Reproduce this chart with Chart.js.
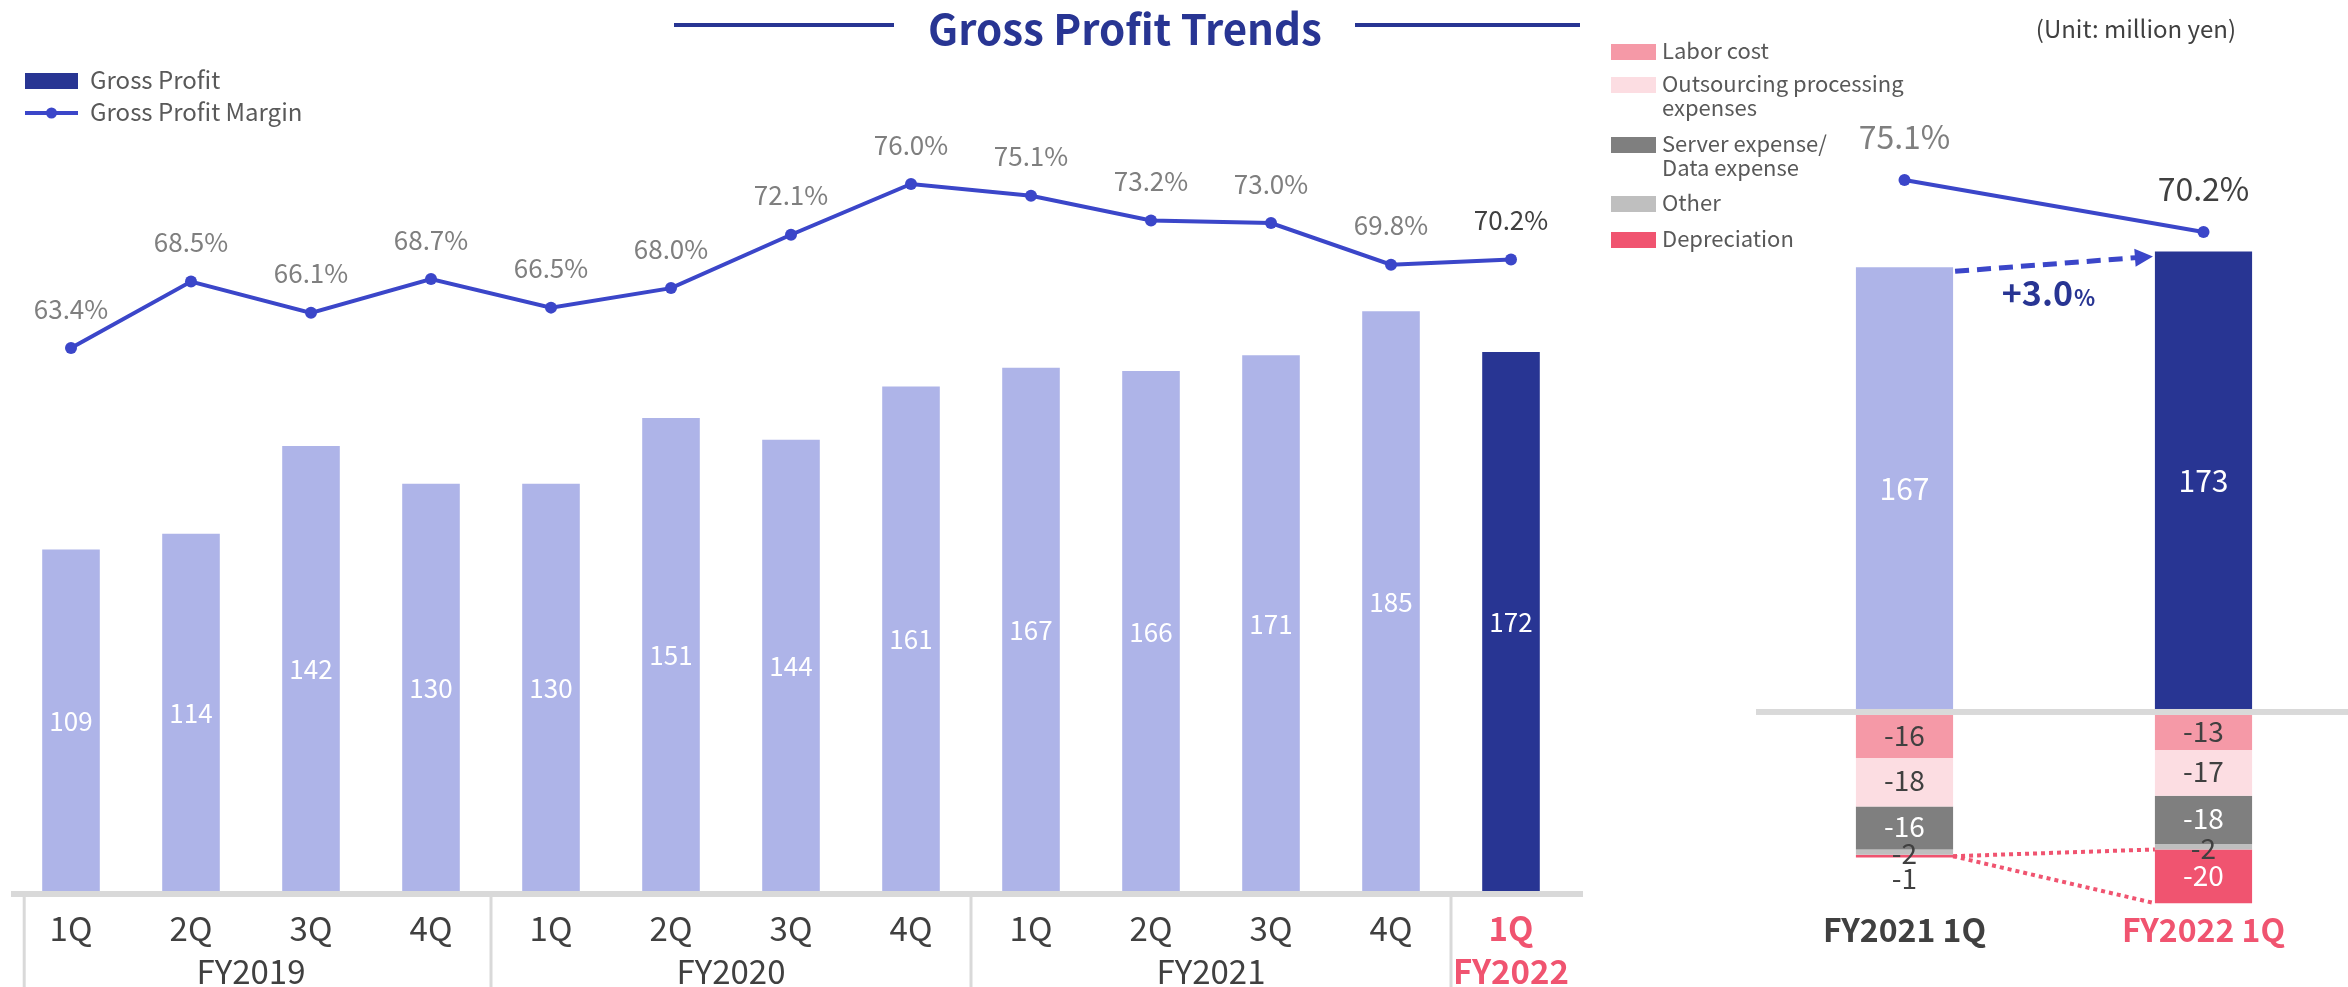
<!DOCTYPE html>
<html>
<head>
<meta charset="utf-8">
<script src="https://cdn.jsdelivr.net/npm/chart.js@4.4.1/dist/chart.umd.min.js"></script>
<style>
html,body{margin:0;padding:0;background:#ffffff;width:2348px;height:987px;overflow:hidden;position:relative;}
#leftChart{position:absolute;left:0;top:0;}
#rightChart{position:absolute;left:1600px;top:0;}
</style>
</head>
<body>
<canvas id="leftChart" width="1600" height="987"></canvas>
<canvas id="rightChart" width="770" height="987"></canvas>
<script>
// ---------------- DATA ----------------
const quarterLabels = ['1Q','2Q','3Q','4Q','1Q','2Q','3Q','4Q','1Q','2Q','3Q','4Q','1Q'];
const fiscalYears = ['FY2019','FY2020','FY2021','FY2022'];
const fiscalGroups = [[0,3],[4,7],[8,11],[12,12]];
const grossProfit = [109,114,142,130,130,151,144,161,167,166,171,185,172];
const grossMargin = [63.4,68.5,66.1,68.7,66.5,68.0,72.1,76.0,75.1,73.2,73.0,69.8,70.2];

const compareLabels = ['FY2021 1Q','FY2022 1Q'];
const compareGrossProfit = [167,173];
const compareMargin = [75.1,70.2];
const laborCost = [-16,-13];
const outsourcingCost = [-18,-17];
const serverDataCost = [-16,-18];
const otherCost = [-2,-2];
const depreciationCost = [-1,-20];
const costNames = ['Labor cost','Outsourcing processing\nexpenses','Server expense/\nData expense','Other','Depreciation'];
const growthText = '+3.0';

// ---------------- STYLE ----------------
const FONT = '"Noto Sans CJK JP","Noto Sans",sans-serif';
const NAVY = '#283593';
const LIGHT = '#aeb4e8';
const LINE = '#3b46c9';
const PINK = '#f05470';
const GRID = '#d9d9d9';
const costColors = ['#f599a7','#fcdde2','#7f7f7f','#bfbfbf','#f05470'];
const costLabelColors = ['#404040','#404040','#ffffff','#404040','#ffffff'];

function txt(ctx, s, x, cy, size, color, weight, align){
  ctx.save();
  ctx.font = (weight||'normal') + ' ' + size + 'px ' + FONT;
  ctx.fillStyle = color;
  ctx.textAlign = align || 'center';
  ctx.textBaseline = 'alphabetic';
  ctx.fillText(s, x, cy + 0.33*size);
  ctx.restore();
}

// ---------------- LEFT CHART ----------------
const leftDecor = {
  id:'leftDecor',
  afterDatasetsDraw(chart){
    const ctx = chart.ctx;
    const xs = chart.scales.x, ys = chart.scales.y;
    const barMeta = chart.getDatasetMeta(0), lineMeta = chart.getDatasetMeta(1);
    barMeta.data.forEach((el,i)=>{
      txt(ctx, String(grossProfit[i]), el.x, (el.y+el.base)/2 + 2, 26, '#ffffff');
    });
    lineMeta.data.forEach((pt,i)=>{
      txt(ctx, grossMargin[i].toFixed(1)+'%', pt.x, pt.y-38, 26, i===grossMargin.length-1?'#404040':'#7f7f7f');
    });
    const step = xs.getPixelForValue(1)-xs.getPixelForValue(0);
    const base = ys.getPixelForValue(0);
    const n = grossProfit.length;
    ctx.fillStyle = GRID;
    const x0 = xs.getPixelForValue(0)-0.5*step, x1 = xs.getPixelForValue(n-1)+0.6*step;
    ctx.fillRect(x0, base, x1-x0, 6);
    const seps = [xs.getPixelForValue(0)-0.39*step];
    fiscalGroups.slice(0,-1).forEach(g=>seps.push(xs.getPixelForValue(g[1])+step/2));
    seps.forEach(sx=>ctx.fillRect(sx-1.5, base+6, 3, chart.height-base-6));
    quarterLabels.forEach((q,i)=>{
      const last = i===n-1;
      txt(ctx, q, xs.getPixelForValue(i), 930, 33, last?PINK:'#404040', last?'bold':'normal');
    });
    fiscalYears.forEach((fy,k)=>{
      const g = fiscalGroups[k];
      const cx = (xs.getPixelForValue(g[0])+xs.getPixelForValue(g[1]))/2;
      const last = k===fiscalYears.length-1;
      txt(ctx, fy, cx, 973, 33, last?PINK:'#404040', last?'bold':'normal');
    });
    // legend
    ctx.fillStyle = NAVY; ctx.fillRect(25,73,53,16);
    txt(ctx,'Gross Profit',90,81,24,'#595959','normal','left');
    ctx.strokeStyle = LINE; ctx.lineWidth = 4;
    ctx.beginPath(); ctx.moveTo(25,113); ctx.lineTo(78,113); ctx.stroke();
    ctx.fillStyle = LINE; ctx.beginPath(); ctx.arc(51.5,113,5.5,0,Math.PI*2); ctx.fill();
    txt(ctx,'Gross Profit Margin',90,113,24,'#595959','normal','left');
    // title
    ctx.fillStyle = NAVY;
    ctx.fillRect(674,23,220,4);
    ctx.fillRect(1355,23,225,4);
    txt(ctx,'Gross Profit Trends',1125,31,42,NAVY,'bold');
  }
};

new Chart(document.getElementById('leftChart'), {
  type:'bar',
  data:{
    labels: quarterLabels,
    datasets:[
      {type:'bar', label:'Gross Profit', data:grossProfit,
       backgroundColor: grossProfit.map((v,i)=> i===grossProfit.length-1?NAVY:LIGHT),
       categoryPercentage:1, barPercentage:0.48, yAxisID:'y', order:1},
      {type:'line', label:'Gross Profit Margin', data:grossMargin, yAxisID:'y2',
       borderColor:LINE, backgroundColor:LINE, borderWidth:4, pointRadius:6,
       pointBackgroundColor:LINE, pointBorderWidth:0, tension:0, order:0}
    ]
  },
  options:{
    responsive:false, animation:false,
    layout:{padding:{left:11,right:29,top:107.7,bottom:96}},
    scales:{
      x:{display:false},
      y:{display:false,min:0,max:250},
      y2:{display:false,min:21.68,max:81.86}
    },
    plugins:{legend:{display:false},tooltip:{enabled:false}}
  },
  plugins:[leftDecor]
});

// ---------------- RIGHT CHART ----------------
const costSeries = [laborCost,outsourcingCost,serverDataCost,otherCost,depreciationCost];
const rightDecor = {
  id:'rightDecor',
  afterDatasetsDraw(chart){
    const ctx = chart.ctx;
    const zTop = chart.scales.y.getPixelForValue(0);
    const zBot = chart.scales.yneg.getPixelForValue(0);
    ctx.fillStyle = GRID;
    ctx.fillRect(156, zTop, chart.width-156, zBot-zTop);
    const gp = chart.getDatasetMeta(0);
    gp.data.forEach((el,i)=> txt(ctx, String(compareGrossProfit[i]), el.x, (el.y+el.base)/2 + 2, 30, '#ffffff'));
    costSeries.forEach((ser,k)=>{
      const meta = chart.getDatasetMeta(k+1);
      meta.data.forEach((el,i)=>{
        const h = Math.abs(el.y-el.base);
        if (k===4 && h<12){
          txt(ctx, String(ser[i]), el.x, el.y+22, 28, '#404040');
        } else {
          txt(ctx, String(ser[i]), el.x, (el.y+el.base)/2 + (h<12?3:0), 28, h<12?'#404040':costLabelColors[k]);
        }
      });
    });
    const lm = chart.getDatasetMeta(6);
    lm.data.forEach((pt,i)=> txt(ctx, compareMargin[i].toFixed(1)+'%', pt.x, pt.y-42, 32, i===0?'#7f7f7f':'#404040'));
    // dotted connectors between depreciation segments
    const dep = chart.getDatasetMeta(5);
    const d0 = dep.data[0], d1 = dep.data[1];
    const sx = d0.x + d0.width/2, sy = (d0.y+d0.base)/2;
    const ex = d1.x - d1.width/2;
    ctx.save();
    ctx.strokeStyle = PINK; ctx.lineWidth = 4; ctx.setLineDash([4,4]);
    ctx.beginPath(); ctx.moveTo(sx,sy); ctx.lineTo(ex,d1.base); ctx.stroke();
    ctx.beginPath(); ctx.moveTo(sx,sy); ctx.lineTo(ex,d1.y); ctx.stroke();
    ctx.restore();
    // dashed arrow
    const b0 = gp.data[0], b1 = gp.data[1];
    const ax = b0.x + b0.width/2 + 2, ay = b0.y + 4;
    const tx = b1.x - b1.width/2 - 2, ty = b1.y + 5;
    const ang = Math.atan2(ty-ay, tx-ax);
    ctx.save();
    ctx.strokeStyle = LINE; ctx.lineWidth = 5; ctx.setLineDash([14,8]);
    ctx.beginPath(); ctx.moveTo(ax,ay); ctx.lineTo(tx-16*Math.cos(ang), ty-16*Math.sin(ang)); ctx.stroke();
    ctx.setLineDash([]);
    ctx.fillStyle = LINE;
    ctx.beginPath();
    ctx.moveTo(tx,ty);
    ctx.lineTo(tx-18*Math.cos(ang)+9*Math.sin(ang), ty-18*Math.sin(ang)-9*Math.cos(ang));
    ctx.lineTo(tx-18*Math.cos(ang)-9*Math.sin(ang), ty-18*Math.sin(ang)+9*Math.cos(ang));
    ctx.closePath(); ctx.fill();
    ctx.restore();
    // growth text
    ctx.save();
    ctx.font = 'bold 34px '+FONT;
    const w1 = ctx.measureText(growthText).width;
    ctx.font = 'bold 22px '+FONT;
    const w2 = ctx.measureText('%').width;
    ctx.restore();
    const gx = 448 - (w1+w2)/2;
    txt(ctx, growthText, gx, 295, 34, NAVY, 'bold', 'left');
    ctx.save();
    ctx.font = 'bold 22px '+FONT; ctx.fillStyle = NAVY; ctx.textAlign='left';
    ctx.fillText('%', gx+w1+1, 295+0.33*34);
    ctx.restore();
    gp.data.forEach((el,i)=> txt(ctx, compareLabels[i], el.x, 931, 32, i===0?'#404040':PINK, 'bold'));
    txt(ctx,'(Unit: million yen)',636,30,24,'#404040','normal','right');
    const legY = [52,85,145,204,240];
    costNames.forEach((nm,k)=>{
      ctx.fillStyle = costColors[k];
      ctx.fillRect(11, legY[k]-8, 45, 16);
      nm.split('\n').forEach((ln,j)=> txt(ctx, ln, 62, legY[k]+j*24, 22, '#595959', 'normal', 'left'));
    });
  }
};

new Chart(document.getElementById('rightChart'), {
  type:'bar',
  data:{
    labels: compareLabels,
    datasets:[
      {type:'bar', label:'Gross Profit', data:compareGrossProfit, backgroundColor:[LIGHT,NAVY], yAxisID:'y',
       stack:'one', order:1, categoryPercentage:1, barPercentage:0.325},
      ...costSeries.map((ser,k)=>({type:'bar', label:costNames[k], data:ser, backgroundColor:costColors[k], yAxisID:'yneg',
       stack:'one', order:1, categoryPercentage:1, barPercentage:0.325})),
      {type:'line', label:'Gross Profit Margin', data:compareMargin, yAxisID:'y2', borderColor:LINE, backgroundColor:LINE,
       borderWidth:4, pointRadius:6, pointBackgroundColor:LINE, pointBorderWidth:0, tension:0, order:0}
    ]
  },
  options:{
    responsive:false, animation:false,
    layout:{padding:{left:155,right:17,top:100,bottom:61.4}},
    scales:{
      x:{display:false, stacked:true},
      y:{display:false, stacked:true, min:-81.9, max:230.25},
      yneg:{display:false, stacked:true, min:-78.3, max:228.6},
      y2:{display:false, min:4.83, max:82.64}
    },
    plugins:{legend:{display:false},tooltip:{enabled:false}}
  },
  plugins:[rightDecor]
});
</script>
</body>
</html>
